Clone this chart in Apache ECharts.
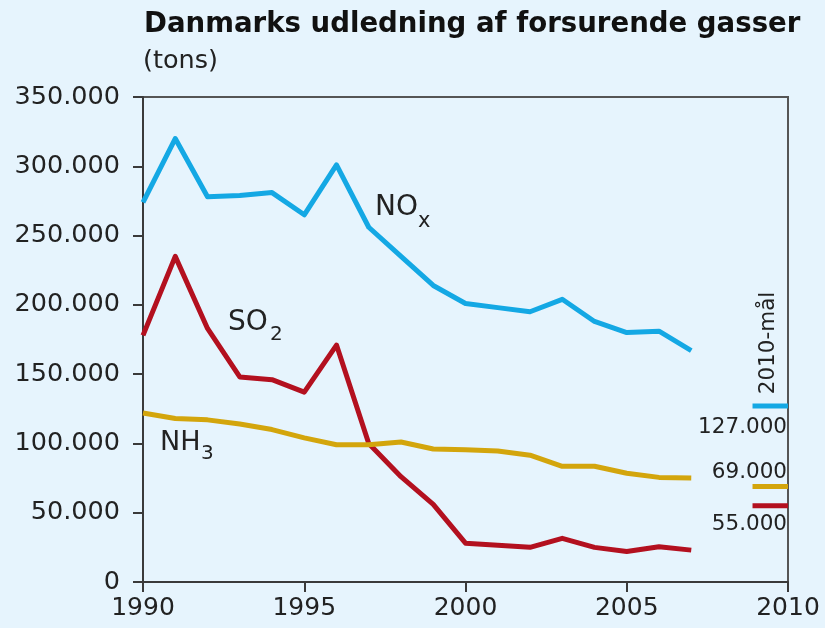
<!DOCTYPE html>
<html>
<head>
<meta charset="utf-8">
<title>Danmarks udledning af forsurende gasser</title>
<script src="https://cdn.jsdelivr.net/npm/echarts@6/dist/echarts.min.js"></script>
<style>
  html, body { margin: 0; padding: 0; background: #e6f4fd; }
  #main { width: 825px; height: 628px; }
</style>
</head>
<body>
<div id="main"></div>
<script>
// data (tons)
var years = [1990, 1991, 1992, 1993, 1994, 1995, 1996, 1997, 1998, 1999,
             2000, 2001, 2002, 2003, 2004, 2005, 2006, 2007];
var nox = [274000, 320000, 278000, 279000, 281000, 265000, 301000, 256000, 235000, 214000,
           201000, 198000, 195000, 204000, 188000, 180000, 181000, 167000];
var so2 = [178000, 235000, 183000, 148000, 146000, 137000, 171000, 100000, 76000, 56000,
           28000, 26500, 25000, 31500, 25000, 22000, 25500, 23000];
var nh3 = [122000, 118000, 117000, 114000, 110000, 104000, 99000, 99000, 101000, 96000,
           95500, 94500, 91500, 83500, 83500, 78500, 75500, 75000];

// 2010-mål
var targetYears = [2008.9, 2010];
var targetNox = 127000;
var targetNh3 = 69000;
var targetSo2 = 55000;

var xTicks = [1990, 1995, 2000, 2005, 2010];
var yTickLabels = ['0', '50.000', '100.000', '150.000', '200.000', '250.000', '300.000', '350.000'];

var blue = '#14a8e4';
var red = '#b3101f';
var gold = '#d3a50c';
var ink = '#222';
var font = 'DejaVu Sans';

function pairs(xs, ys) {
  var out = [];
  for (var i = 0; i < xs.length; i++) out.push([xs[i], ys[i]]);
  return out;
}
function flat(v) {
  return pairs(targetYears, targetYears.map(function () { return v; }));
}

function lineSeries(name, data, color) {
  return {
    name: name,
    type: 'line',
    data: data,
    symbol: 'none',
    silent: true,
    lineStyle: { color: color, width: 5, join: 'round', cap: 'butt' },
    animation: false
  };
}

var myChart = echarts.init(document.getElementById('main'), null, { renderer: 'canvas' });

var option = {
  backgroundColor: '#e6f4fd',
  animation: false,
  textStyle: { fontFamily: font, color: ink },
  grid: {
    left: 143, right: 37, top: 97, bottom: 46,
    show: true, borderColor: '#555', borderWidth: 2, backgroundColor: 'transparent'
  },
  xAxis: {
    type: 'value',
    min: xTicks[0], max: xTicks[xTicks.length - 1], interval: 5,
    axisLine: { lineStyle: { color: '#3a3a3a', width: 2 } },
    axisTick: { length: 10, lineStyle: { color: '#3a3a3a', width: 2 } },
    axisLabel: {
      fontSize: 25, color: ink, fontFamily: font, margin: 14,
      formatter: function (v) { return String(v); }
    },
    splitLine: { show: false }
  },
  yAxis: {
    type: 'value',
    min: 0, max: 350000, interval: 50000,
    axisLine: { show: true, lineStyle: { color: '#3a3a3a', width: 2 } },
    axisTick: { show: true, length: 10, lineStyle: { color: '#3a3a3a', width: 2 } },
    axisLabel: {
      fontSize: 25.5, color: ink, fontFamily: font, margin: 23,
      formatter: function (v) { return yTickLabels[Math.round(v / 50000)]; }
    },
    splitLine: { show: false }
  },
  series: [
    lineSeries('NOx', pairs(years, nox), blue),
    lineSeries('SO2', pairs(years, so2), red),
    lineSeries('NH3', pairs(years, nh3), gold),
    lineSeries('NOx 2010', flat(targetNox), blue),
    lineSeries('NH3 2010', flat(targetNh3), gold),
    lineSeries('SO2 2010', flat(targetSo2), red)
  ],
  graphic: [
    { type: 'text', left: 144, top: 11, style: { text: 'Danmarks udledning af forsurende gasser', fontFamily: font, fontWeight: 'bold', fontSize: 27.6, fill: '#111' } },
    { type: 'text', left: 143, top: 48, style: { text: '(tons)', fontFamily: font, fontSize: 25.5, fill: ink } },

    // series names
    { type: 'text', x: 375, y: 194, style: { text: 'NO', fontFamily: font, fontSize: 28, fill: ink } },
    { type: 'text', x: 418, y: 211, style: { text: 'x', fontFamily: font, fontSize: 21, fill: ink } },
    { type: 'text', x: 228, y: 309, style: { text: 'SO', fontFamily: font, fontSize: 28, fill: ink } },
    { type: 'text', x: 270, y: 325, style: { text: '2', fontFamily: font, fontSize: 20, fill: ink } },
    { type: 'text', x: 160, y: 429, style: { text: 'NH', fontFamily: font, fontSize: 27, fill: ink } },
    { type: 'text', x: 201, y: 444, style: { text: '3', fontFamily: font, fontSize: 20, fill: ink } },

    // 2010 targets
    { type: 'text', x: 768, y: 343, rotation: Math.PI / 2, style: { text: '2010-mål', fontFamily: font, fontSize: 21.5, fill: ink, align: 'center', verticalAlign: 'middle' } },
    { type: 'text', x: 787, y: 427, style: { text: '127.000', fontFamily: font, fontSize: 21.5, fill: ink, align: 'right', verticalAlign: 'middle' } },
    { type: 'text', x: 787, y: 472, style: { text: '69.000', fontFamily: font, fontSize: 21.5, fill: ink, align: 'right', verticalAlign: 'middle' } },
    { type: 'text', x: 787, y: 524, style: { text: '55.000', fontFamily: font, fontSize: 21.5, fill: ink, align: 'right', verticalAlign: 'middle' } }
  ]
};

myChart.setOption(option);
</script>
</body>
</html>
